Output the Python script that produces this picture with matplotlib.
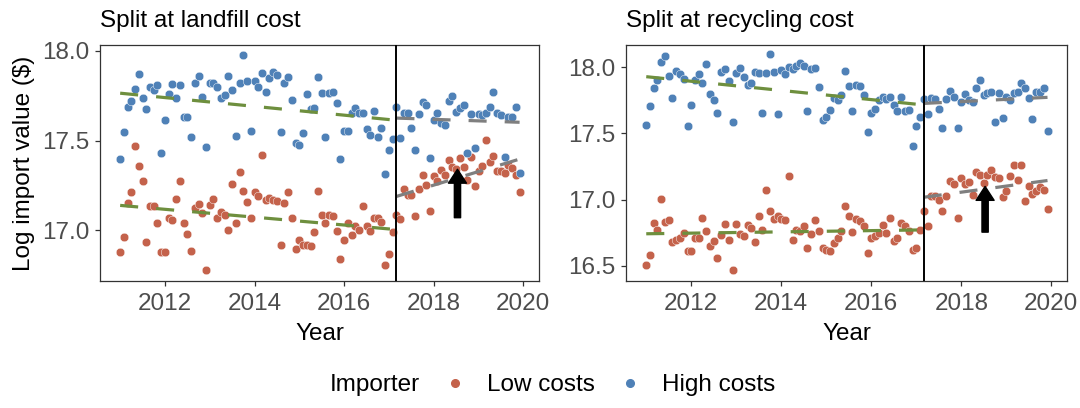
import numpy as np
import pandas as pd
import matplotlib
matplotlib.use("Agg")
import matplotlib.pyplot as plt
from matplotlib.lines import Line2D

plt.rcParams['font.family'] = ['Liberation Sans', 'DejaVu Sans']
plt.rcParams['lines.scale_dashes'] = False

# ---------------- data ----------------
months = pd.date_range("2011-01-01", periods=108, freq="MS")
break_date = 2017 + 2 / 12  # March 2017

titles = ["Split at landfill cost", "Split at recycling cost"]
series_labels = ["Low costs", "High costs"]
y_ticks_left = [17.0, 17.5, 18.0]
y_ticks_right = [16.5, 17.0, 17.5, 18.0]
x_ticks = [2012, 2014, 2016, 2018, 2020]

landfill_high = [
    17.40, 17.546, 17.69, 17.72, 17.79, 17.87, 17.735, 17.674, 17.80, 17.78,
    17.81, 17.43, 17.615, 17.76, 17.815, 17.735, 17.81, 17.633, 17.633, 17.52,
    17.82, 17.86, 17.745, 17.467, 17.82, 17.82, 17.80, 17.74, 17.754, 17.86,
    17.78, 17.528, 17.82, 17.976, 17.833, 17.554, 17.83, 17.80, 17.878, 17.77,
    17.85, 17.883, 17.865, 17.55, 17.82, 17.855, 17.726, 17.485, 17.476, 17.544,
    17.76, 17.674, 17.68, 17.855, 17.767, 17.522, 17.763, 17.77, 17.707, 17.396,
    17.554, 17.556, 17.656, 17.68, 17.652, 17.652, 17.563, 17.53, 17.665, 17.522,
    17.57, 17.315, 17.448, 17.51,
    17.685, 17.513, 17.652, 17.656, 17.569, 17.448, 17.648, 17.717, 17.698, 17.402,
    17.615, 17.656, 17.596, 17.587, 17.722, 17.748, 17.661, 17.68, 17.698, 17.43,
    17.648, 17.457, 17.648, 17.643, 17.652, 17.685, 17.772, 17.652, 17.643, 17.411,
    17.633, 17.633, 17.689, 17.322]

landfill_low = [
    16.878, 16.961, 17.152, 17.213, 17.472, 17.356, 17.276, 16.935, 17.133, 17.133,
    17.041, 16.878, 16.878, 17.069, 17.059, 17.174, 17.272, 17.041, 16.981, 16.887,
    17.124, 17.148, 17.096, 16.776, 17.143, 17.176, 17.069, 17.10, 17.087, 17.00,
    17.257, 17.041, 17.324, 17.22, 17.157, 17.069, 17.213, 17.189, 17.42, 17.167,
    17.18, 17.167, 17.161, 16.917, 17.152, 17.211, 17.069, 16.893, 16.948, 16.92,
    16.92, 16.911, 16.991, 17.217, 17.087, 17.041, 17.087, 17.081, 16.994, 16.837,
    16.944, 17.041, 16.976, 17.022, 17.004, 17.133, 17.022, 16.994, 17.069, 17.069,
    17.044, 16.804, 16.87, 16.991,
    17.087, 17.063, 17.23, 17.198, 17.198, 17.081, 17.23, 17.309, 17.254, 17.106,
    17.30, 17.276, 17.337, 17.309, 17.394, 17.35, 17.341, 17.402, 17.35, 17.281,
    17.411, 17.248, 17.328, 17.356, 17.504, 17.383, 17.415, 17.333, 17.328, 17.317,
    17.365, 17.346, 17.309, 17.211]

recycling_high = [
    17.565, 17.704, 17.842, 17.905, 18.038, 18.088, 17.935, 17.771, 17.975, 17.947,
    17.910, 17.553, 17.716, 17.905, 17.947, 17.884, 18.023, 17.799, 17.754, 17.658,
    17.962, 17.987, 17.899, 17.590, 17.955, 17.992, 17.930, 17.867, 17.879, 17.967,
    17.960, 17.658, 17.955, 18.098, 17.962, 17.648, 17.980, 17.950, 18.005, 17.985,
    18.010, 18.035, 18.010, 17.673, 17.985, 17.992, 17.849, 17.598, 17.628, 17.678,
    17.766, 17.754, 17.791, 17.972, 17.859, 17.666, 17.867, 17.859, 17.791, 17.508,
    17.653, 17.686, 17.754, 17.779, 17.759, 17.779, 17.716, 17.666, 17.779, 17.666,
    17.678, 17.407, 17.553, 17.623,
    17.759, 17.648, 17.766, 17.759, 17.683, 17.545, 17.759, 17.824, 17.779, 17.545,
    17.741, 17.796, 17.754, 17.741, 17.842, 17.904, 17.791, 17.804, 17.816, 17.583,
    17.804, 17.615, 17.779, 17.754, 17.804, 17.816, 17.879, 17.842, 17.766, 17.608,
    17.816, 17.816, 17.842, 17.515]

recycling_low = [
    16.510, 16.585, 16.824, 16.774, 17.005, 16.829, 16.849, 16.681, 16.693, 16.711,
    16.749, 16.616, 16.611, 16.711, 16.711, 16.862, 16.761, 16.648, 16.686, 16.560,
    16.736, 16.819, 16.698, 16.467, 16.819, 16.744, 16.724, 16.812, 16.786, 16.678,
    16.874, 16.774, 17.075, 16.912, 16.854, 16.874, 16.854, 16.844, 17.181, 16.693,
    16.774, 16.761, 16.799, 16.636, 16.744, 16.844, 16.766, 16.636, 16.618, 16.611,
    16.673, 16.711, 16.761, 16.955, 16.879, 16.754, 16.854, 16.837, 16.799, 16.598,
    16.711, 16.724, 16.749, 16.812, 16.749, 16.862, 16.686, 16.711, 16.824, 16.799,
    16.761, 16.623, 16.636, 16.774,
    16.915, 16.799, 17.025, 17.025, 17.000, 16.917, 17.025, 17.138, 17.118, 16.862,
    17.163, 17.118, 17.133, 17.038, 17.209, 17.183, 17.126, 17.188, 17.226, 17.168,
    17.163, 17.018, 17.068, 17.176, 17.264, 17.151, 17.259, 16.987, 17.100, 17.043,
    17.068, 17.093, 17.075, 16.932]

# ---------------- styling ----------------
RED = "#C4624B"
BLUE = "#4F81B7"
GREEN = "#6E8F3E"
GREY = "#7F7F7F"
TICK_COL = "#4D4D4D"
FRAME_COL = "#333333"
FS = 17.5

x = (months.year + (months.month - 1) / 12).to_numpy(dtype=float)
pre = x < break_date - 1e-6

fig = plt.figure(figsize=(10.8, 4.08), dpi=100)
ax_l = fig.add_axes([100 / 1080, 1 - 281 / 408, 439 / 1080, 236 / 408])
ax_r = fig.add_axes([626 / 1080, 1 - 281 / 408, 441 / 1080, 236 / 408])

panels = [
    (ax_l, landfill_low, landfill_high, (16.717, 18.033), y_ticks_left,
     (17.07, 17.34)),
    (ax_r, recycling_low, recycling_high, (16.386, 18.168), y_ticks_right,
     (16.755, 17.10)),
]

for (ax, low, high, ylim, yt, arrow_y), title in zip(panels, titles):
    low = np.asarray(low)
    high = np.asarray(high)
    for vals, col in ((low, RED), (high, BLUE)):
        ax.scatter(x, vals, s=38, color=col, edgecolors="white",
                   linewidths=0.3, zorder=2)
    # linear fits, pre and post split
    for vals in (low, high):
        for mask, col in ((pre, GREEN), (~pre, GREY)):
            xs = x[mask]
            b, a = np.polyfit(xs, vals[mask], 1)
            x0 = xs[0] if col == GREEN else break_date
            x1 = xs[-1]
            ax.plot([x0, x1], [a + b * x0, a + b * x1], color=col, lw=2.3,
                    dashes=(13, 13), zorder=3, dash_capstyle="butt")
    ax.axvline(break_date, color="black", lw=1.4, zorder=4)
    ax.annotate("", xy=(2018.53, arrow_y[1]), xytext=(2018.53, arrow_y[0]),
                arrowprops=dict(facecolor="black", edgecolor="black", width=4.5,
                                headwidth=13, headlength=10, shrink=0),
                zorder=5)
    ax.set_xlim(2010.55, 2020.35)
    ax.set_ylim(*ylim)
    ax.set_xticks(x_ticks)
    ax.set_xticklabels([str(t) for t in x_ticks])
    ax.set_yticks(yt)
    ax.set_yticklabels([f"{t:.1f}" for t in yt])
    ax.tick_params(direction="out", length=3.5, width=0.9, colors=FRAME_COL,
                   labelcolor=TICK_COL, labelsize=FS)
    ax.tick_params(axis="x", pad=5)
    ax.tick_params(axis="y", pad=4)
    for sp in ax.spines.values():
        sp.set_color(FRAME_COL)
        sp.set_linewidth(0.9)
    ax.set_xlabel("Year", fontsize=FS, labelpad=6)
    ax.set_title(title, loc="left", fontsize=FS, pad=13)

ax_l.set_ylabel("Log import value ($)", fontsize=FS, labelpad=5)

# legend
fig.text(330 / 1080, 1 - 385 / 408, "Importer", fontsize=FS, va="center",
         ha="left")
handles = [Line2D([], [], marker="o", linestyle="none", color=RED,
                  markersize=5.5),
           Line2D([], [], marker="o", linestyle="none", color=BLUE,
                  markersize=5.5)]
fig.legend(handles, series_labels, loc="center left",
           bbox_to_anchor=(443 / 1080, 1 - 385 / 408), ncol=2, frameon=False,
           fontsize=FS, handletextpad=0.82, columnspacing=0.95,
           handlelength=1.0, borderaxespad=0, borderpad=0)

fig.savefig("out.png", dpi=100)
